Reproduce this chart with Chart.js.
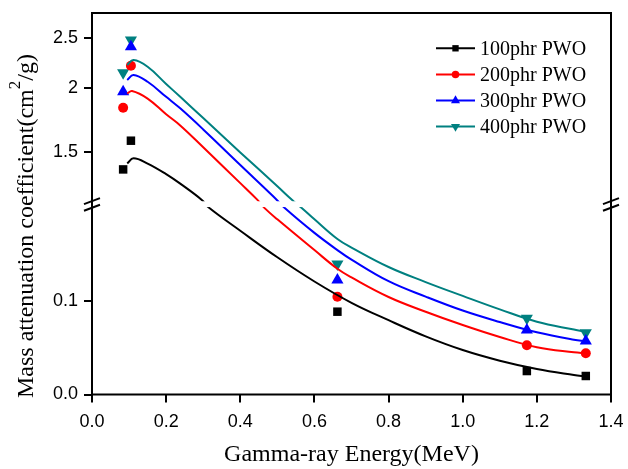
<!DOCTYPE html>
<html>
<head>
<meta charset="utf-8">
<script src="https://cdn.jsdelivr.net/npm/chart.js@4.4.1/dist/chart.umd.min.js"></script>
<style>
  html, body { margin: 0; padding: 0; background: #fff; }
</style>
</head>
<body>
<canvas id="chart" width="628" height="469"></canvas>
<script>
// measured points (x = photon energy in MeV)
const energies = [0.084, 0.105, 0.662, 1.173, 1.332];
const pwo100 = [1.385, 1.576, 0.0886, 0.0251, 0.0198];
const pwo200 = [1.828, 2.208, 0.1046, 0.0526, 0.0441];
const pwo300 = [1.965, 2.405, 0.1225, 0.069, 0.0572];
const pwo400 = [2.14, 2.479, 0.1396, 0.0815, 0.0661];

// fitted curves
const fit100X = [0.095, 0.112, 0.15, 0.2, 0.238, 0.297, 0.315, 0.4, 0.5, 0.6, 0.7, 0.8, 0.9, 1.0, 1.1, 1.2, 1.3, 1.332];
const fit100Y = [1.423, 1.456, 1.422, 1.356, 1.299, 1.206, 0.2, 0.1752, 0.1468, 0.1209, 0.0981, 0.0795, 0.0622, 0.0476, 0.0362, 0.0273, 0.0209, 0.0193];
const fit200X = [0.095, 0.108, 0.15, 0.2, 0.238, 0.3, 0.4, 0.445, 0.465, 0.5, 0.6, 0.662, 0.7, 0.8, 0.9, 1.0, 1.1, 1.2, 1.3, 1.332];
const fit200Y = [1.949, 1.971, 1.905, 1.775, 1.688, 1.530, 1.302, 1.210, 0.1997, 0.1874, 0.1545, 0.1345, 0.1252, 0.1043, 0.0885, 0.0743, 0.0615, 0.0505, 0.0451, 0.0441];
const fit300X = [0.095, 0.112, 0.15, 0.2, 0.238, 0.3, 0.4, 0.49, 0.52, 0.6, 0.662, 0.7, 0.8, 0.9, 1.0, 1.1, 1.2, 1.3, 1.332];
const fit300Y = [2.071, 2.118, 2.055, 1.920, 1.823, 1.658, 1.413, 1.225, 0.1995, 0.1729, 0.1545, 0.1443, 0.1212, 0.1047, 0.0898, 0.0775, 0.0665, 0.0586, 0.0572];
const fit400X = [0.095, 0.112, 0.15, 0.2, 0.238, 0.3, 0.4, 0.5, 0.54, 0.565, 0.6, 0.662, 0.7, 0.8, 0.9, 1.0, 1.1, 1.2, 1.3, 1.332];
const fit400Y = [2.215, 2.265, 2.198, 2.035, 1.920, 1.745, 1.495, 1.284, 1.207, 0.1998, 0.1874, 0.1663, 0.1572, 0.1364, 0.1203, 0.1055, 0.0911, 0.0778, 0.0695, 0.0672];

const seriesNames = ['100phr PWO', '200phr PWO', '300phr PWO', '400phr PWO'];
const xTicks = [0, 0.2, 0.4, 0.6, 0.8, 1.0, 1.2, 1.4];
const yTicks = [0, 0.1, 1.5, 2, 2.5];
const yTickLabels = ['0.0', '0.1', '1.5', '2', '2.5'];
const xTitle = 'Gamma-ray Energy(MeV)';
const yTitleParts = ['Mass attenuation coefficient(cm', '2', '/g)'];

// axis break: linear 0..0.2 below, log 1.2..2.8 above
const BREAK_LO = 0.2, BREAK_HI = 1.2, Y_MAX = 2.8;
const LOW_FRAC = 0.490, UP_FRAC = 0.4935;

const colors = ['#000000', '#ff0000', '#0000ff', '#008080'];
const markers = [
  { pointStyle: 'rect', radius: 6, rotation: 0 },
  { pointStyle: 'circle', radius: 5, rotation: 0 },
  { pointStyle: 'triangle', radius: 7, rotation: 0 },
  { pointStyle: 'triangle', radius: 7, rotation: 180 }
];
const serif = '"Liberation Serif", "Times New Roman", serif';
const sans = '"Liberation Sans", Arial, sans-serif';

class BrokenScale extends Chart.LinearScale {
  buildTicks() {
    return yTicks.map(v => ({ value: v }));
  }
  _bounds() {
    const h = this.bottom - this.top;
    return { yLo: this.bottom - h * LOW_FRAC, yHi: this.top + h * UP_FRAC };
  }
  getPixelForValue(v) {
    if (v === null || v === undefined || isNaN(v)) return NaN;
    const { yLo, yHi } = this._bounds();
    if (v <= BREAK_LO) return this.bottom - (v / BREAK_LO) * (this.bottom - yLo);
    if (v >= BREAK_HI) {
      const t = Math.log(Y_MAX / v) / Math.log(Y_MAX / BREAK_HI);
      return this.top + t * (yHi - this.top);
    }
    return yLo + (v - BREAK_LO) / (BREAK_HI - BREAK_LO) * (yHi - yLo);
  }
  getValueForPixel(p) {
    const { yLo, yHi } = this._bounds();
    if (p >= yLo) return (this.bottom - p) / (this.bottom - yLo) * BREAK_LO;
    if (p <= yHi) return Y_MAX / Math.pow(Y_MAX / BREAK_HI, (p - this.top) / (yHi - this.top));
    return BREAK_LO + (p - yLo) / (yHi - yLo) * (BREAK_HI - BREAK_LO);
  }
}
BrokenScale.id = 'broken';
BrokenScale.defaults = {};
Chart.register(BrokenScale);

const toXY = (xs, ys) => xs.map((x, i) => ({ x: x, y: ys[i] }));
const pointSets = [pwo100, pwo200, pwo300, pwo400];
const fits = [[fit100X, fit100Y], [fit200X, fit200Y], [fit300X, fit300Y], [fit400X, fit400Y]];

const datasets = [];
fits.forEach((f, i) => {
  datasets.push({
    label: seriesNames[i] + ' fit',
    data: toXY(f[0], f[1]),
    showLine: true,
    borderColor: colors[i],
    borderWidth: 2,
    pointRadius: 0,
    tension: 0.4,
    fill: false
  });
});
pointSets.forEach((p, i) => {
  datasets.push({
    label: seriesNames[i],
    data: toXY(energies, p),
    showLine: false,
    backgroundColor: colors[i],
    borderColor: colors[i],
    borderWidth: 0,
    pointStyle: markers[i].pointStyle,
    pointRadius: markers[i].radius,
    pointRotation: markers[i].rotation,
    clip: false
  });
});

// white gap, break marks, frame, legend, y title
const decorations = {
  id: 'decorations',
  afterDatasetsDraw(chart) {
    const ctx = chart.ctx;
    const a = chart.chartArea;
    const ys = chart.scales.y;
    const yHi = ys.getPixelForValue(BREAK_HI);
    const yLo = ys.getPixelForValue(BREAK_LO);
    ctx.save();
    ctx.fillStyle = '#ffffff';
    ctx.fillRect(a.left + 1, yHi, a.right - a.left - 2, yLo - 0.5 - yHi);

    ctx.strokeStyle = '#000';
    ctx.lineWidth = 2;
    ctx.strokeRect(a.left, a.top, a.right - a.left, a.bottom - a.top);

    const cy = (yHi + yLo) / 2;
    [a.left, a.right].forEach(ax => {
      [-3.3, 3.3].forEach(dy => {
        ctx.beginPath();
        ctx.moveTo(ax - 8, cy + dy + 3);
        ctx.lineTo(ax + 8, cy + dy - 3);
        ctx.stroke();
      });
    });

    // legend
    ctx.font = '20px ' + serif;
    ctx.textBaseline = 'middle';
    ctx.textAlign = 'left';
    seriesNames.forEach((name, i) => {
      const y = 48.3 + i * 26.1;
      ctx.strokeStyle = colors[i];
      ctx.lineWidth = 2;
      ctx.beginPath();
      ctx.moveTo(436, y);
      ctx.lineTo(475, y);
      ctx.stroke();
      ctx.fillStyle = colors[i];
      Chart.helpers.drawPoint(ctx, {
        pointStyle: markers[i].pointStyle,
        radius: markers[i].radius * 0.75,
        rotation: markers[i].rotation,
        borderWidth: 0
      }, 455.5, y);
      ctx.fillStyle = '#000';
      ctx.fillText(name, 480, y + 1);
    });

    // y axis title with superscript
    ctx.translate(33, 398);
    ctx.rotate(-Math.PI / 2);
    ctx.textBaseline = 'alphabetic';
    ctx.fillStyle = '#000';
    let x = 0;
    ctx.font = '24px ' + serif;
    ctx.fillText(yTitleParts[0], x, 0);
    x += ctx.measureText(yTitleParts[0]).width;
    ctx.font = '17px ' + serif;
    ctx.fillText(yTitleParts[1], x, -13);
    x += ctx.measureText(yTitleParts[1]).width;
    ctx.font = '24px ' + serif;
    ctx.fillText(yTitleParts[2], x, 0);
    ctx.restore();
  }
};

new Chart(document.getElementById('chart'), {
  type: 'scatter',
  data: { datasets: datasets },
  options: {
    responsive: false,
    animation: false,
    events: [],
    layout: { padding: { top: 13, right: 17, left: 0, bottom: 0 } },
    plugins: {
      legend: { display: false },
      tooltip: { enabled: false }
    },
    scales: {
      x: {
        type: 'linear',
        min: 0,
        max: 1.4,
        afterBuildTicks: s => { s.ticks = xTicks.map(v => ({ value: v })); },
        afterFit: s => {
          s.height = 74.5;
          s.paddingLeft = 0;
          s.paddingRight = 0;
        },
        ticks: {
          color: '#000',
          font: { family: sans, size: 18 },
          padding: 9,
          maxRotation: 0,
          autoSkip: false,
          callback: v => v.toFixed(1)
        },
        grid: { drawOnChartArea: false, drawTicks: true, tickLength: 8, lineWidth: 2, color: '#000' },
        border: { display: false },
        title: {
          display: true,
          text: xTitle,
          color: '#000',
          font: { family: serif, size: 24 },
          padding: { top: 0, bottom: 0 }
        }
      },
      y: {
        type: 'broken',
        min: 0,
        max: Y_MAX,
        afterFit: s => {
          s.width = 92;
          s.paddingTop = 0;
          s.paddingBottom = 0;
        },
        ticks: {
          color: '#000',
          font: { family: sans, size: 18 },
          padding: 6,
          autoSkip: false,
          callback: (v, i) => yTickLabels[i]
        },
        grid: { drawOnChartArea: false, drawTicks: true, tickLength: 8, lineWidth: 2, color: '#000' },
        border: { display: false }
      }
    }
  },
  plugins: [decorations]
});
</script>
</body>
</html>
